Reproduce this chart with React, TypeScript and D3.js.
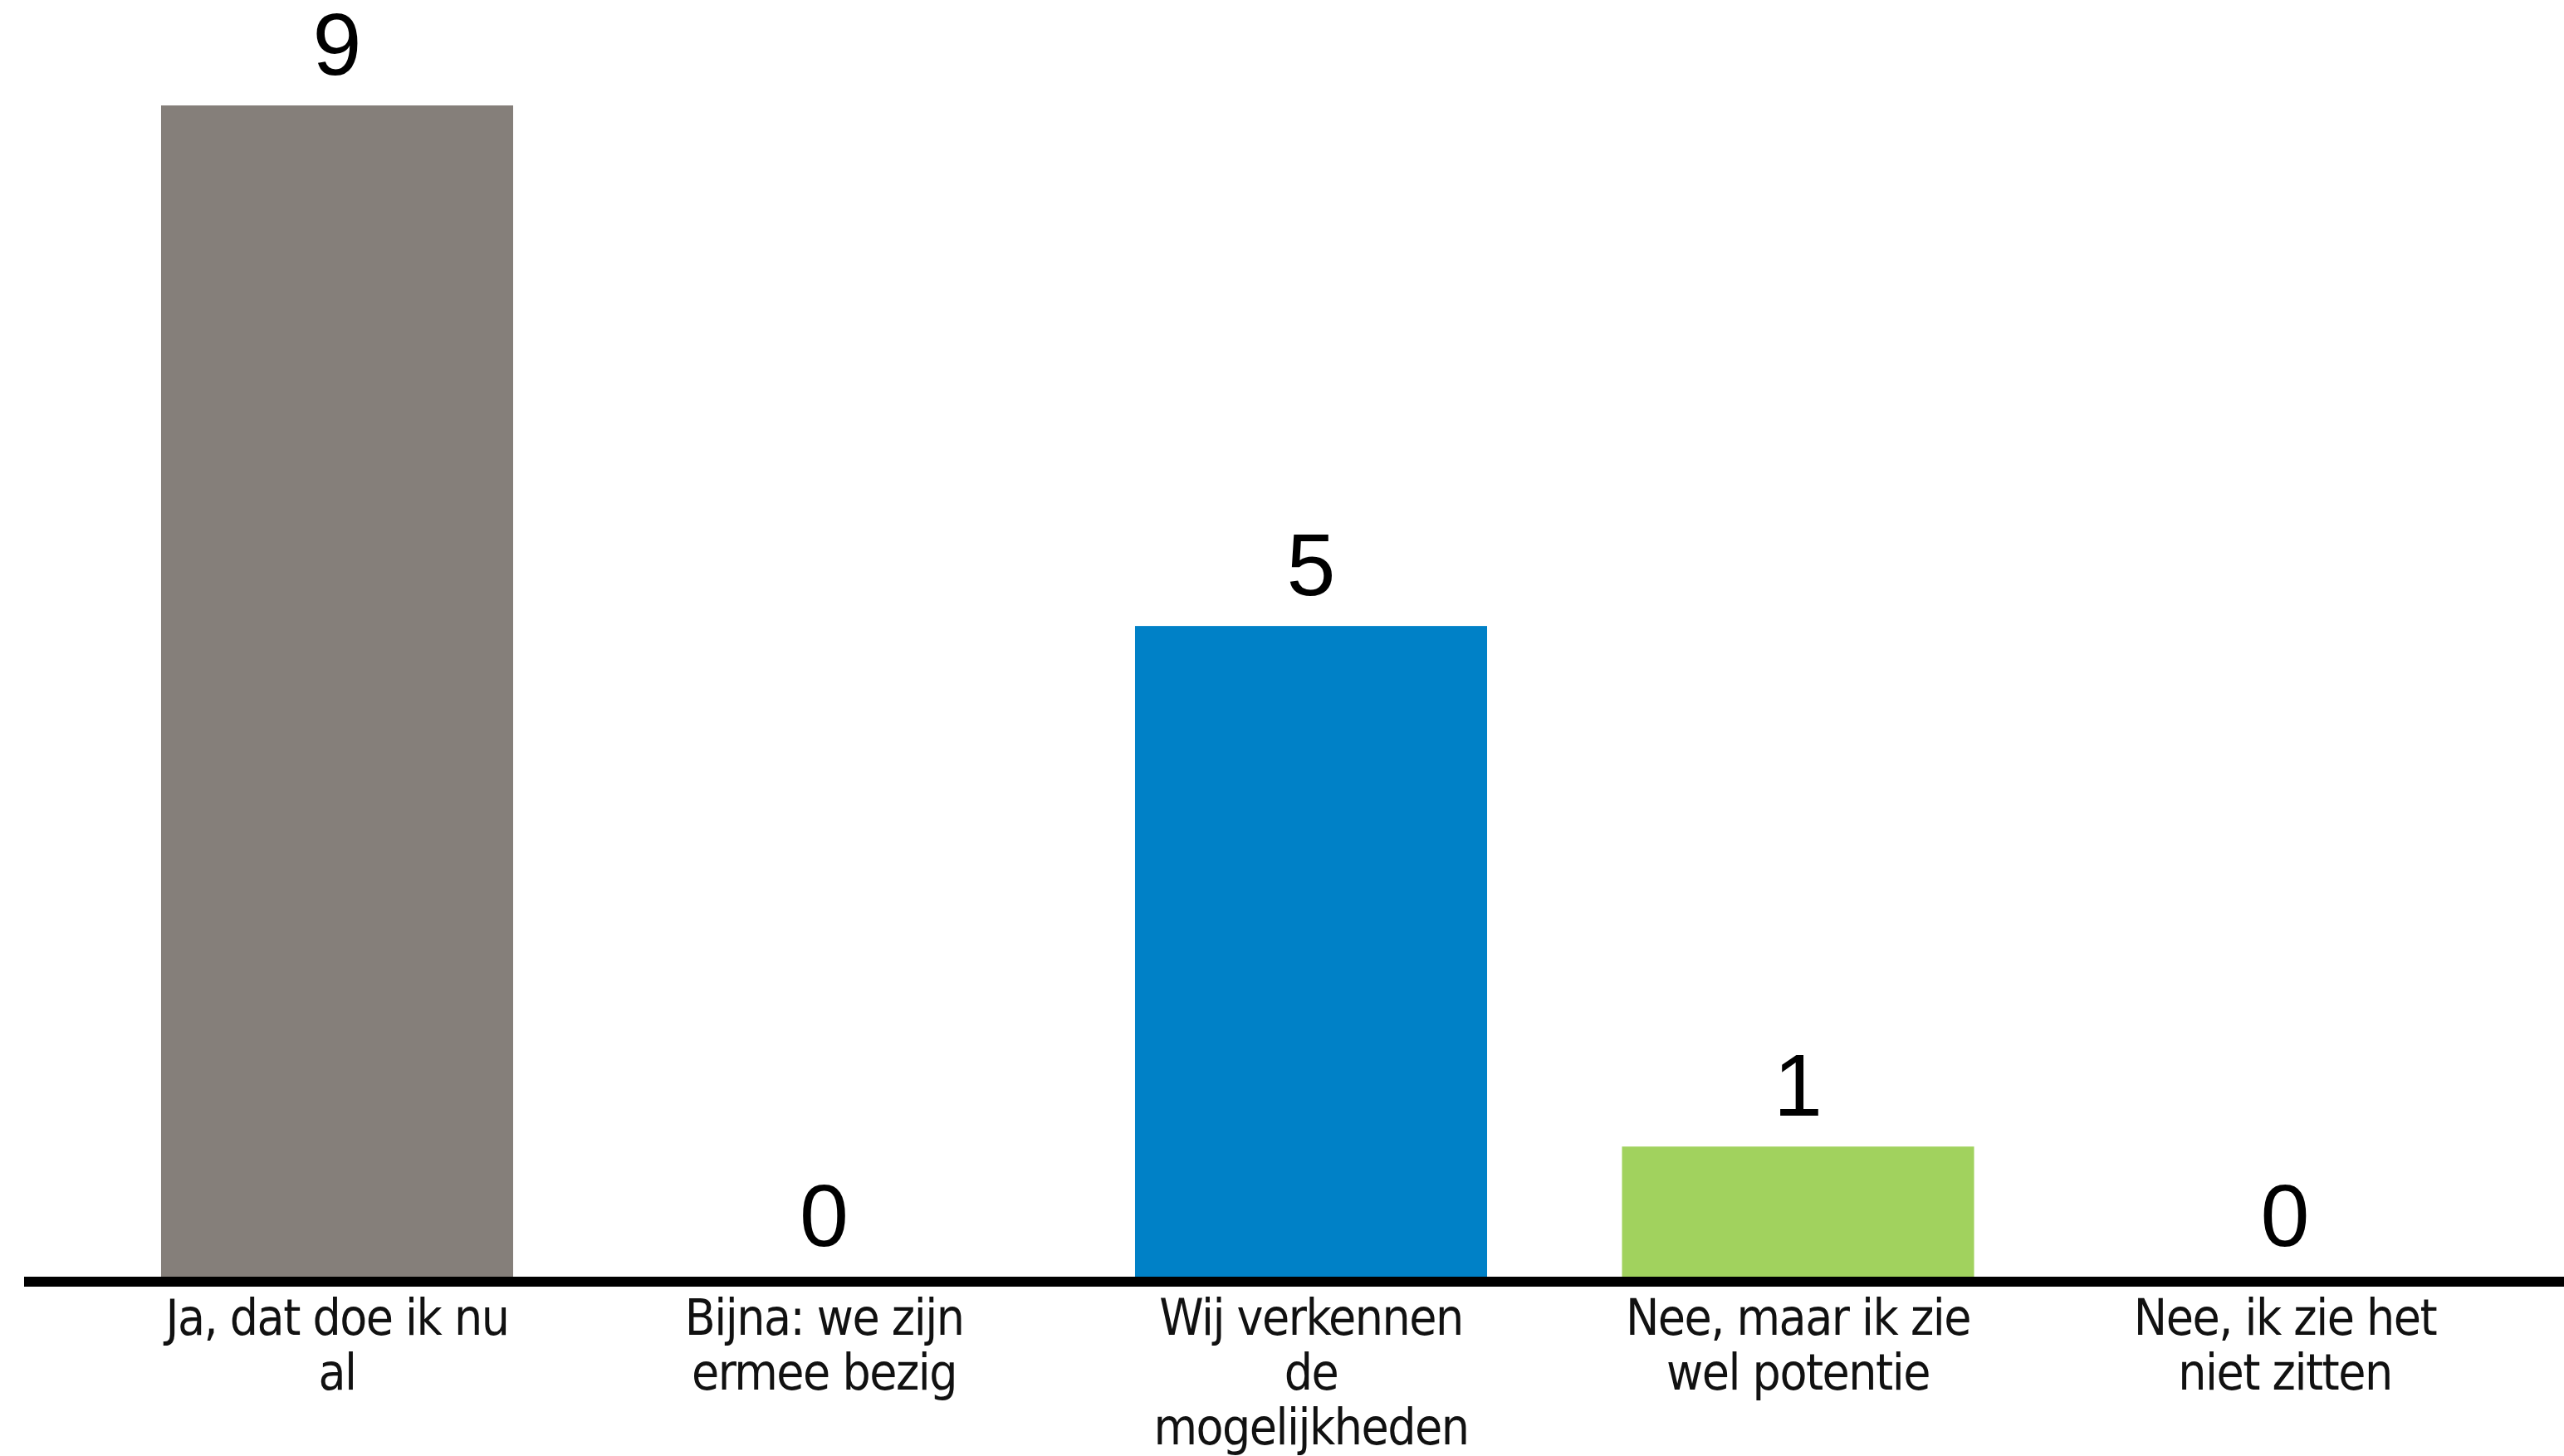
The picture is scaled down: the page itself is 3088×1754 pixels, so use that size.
import React from "react";
import * as d3 from "d3";

const categories = [
  "Ja, dat doe ik nu\nal",
  "Bijna: we zijn\nermee bezig",
  "Wij verkennen\nde\nmogelijkheden",
  "Nee, maar ik zie\nwel potentie",
  "Nee, ik zie het\nniet zitten",
];
const values = [9, 0, 5, 1, 0];
const colors = ["#857f7a", "#857f7a", "#0081c7", "#a1d25e", "#857f7a"];

const W = 3088;
const H = 1754;

export default function App() {
  const x = d3
    .scaleBand<number>()
    .domain(d3.range(categories.length))
    .range([112.75, 3045.25])
    .paddingInner(0.277)
    .paddingOuter(0.1385);
  const y = d3.scaleLinear().domain([0, 9]).range([1538, 127]);
  const labelFont = "'Liberation Sans Narrow', 'DejaVu Sans Condensed', 'Liberation Sans', sans-serif";

  return (
    <svg
      width={W}
      height={H}
      style={{ position: "absolute", left: 0, top: 0, background: "#fff" }}
    >
      <rect x={0} y={0} width={W} height={H} fill="#fff" />
      {values.map((v, i) => {
        const bx = x(i)!;
        const bw = x.bandwidth();
        const cx = bx + bw / 2;
        return (
          <g key={i}>
            {v > 0 && (
              <rect x={bx} y={y(v)} width={bw} height={y(0) - y(v)} fill={colors[i]} />
            )}
            <text
              x={cx}
              y={y(v) - 37}
              textAnchor="middle"
              fontFamily="'Liberation Sans', Arial, sans-serif"
              fontSize={106}
              fill="#000"
            >
              {v}
            </text>
            <text
              textAnchor="middle"
              fontFamily={labelFont}
              fontSize={60}
              letterSpacing={-1.5}
              fill="#111"
            >
              {categories[i].split("\n").map((line, j) => (
                <tspan key={j} x={cx} y={1608 + j * 66}>
                  {line}
                </tspan>
              ))}
            </text>
          </g>
        );
      })}
      <line x1={29} x2={W} y1={1544} y2={1544} stroke="#000" strokeWidth={12} />
    </svg>
  );
}
